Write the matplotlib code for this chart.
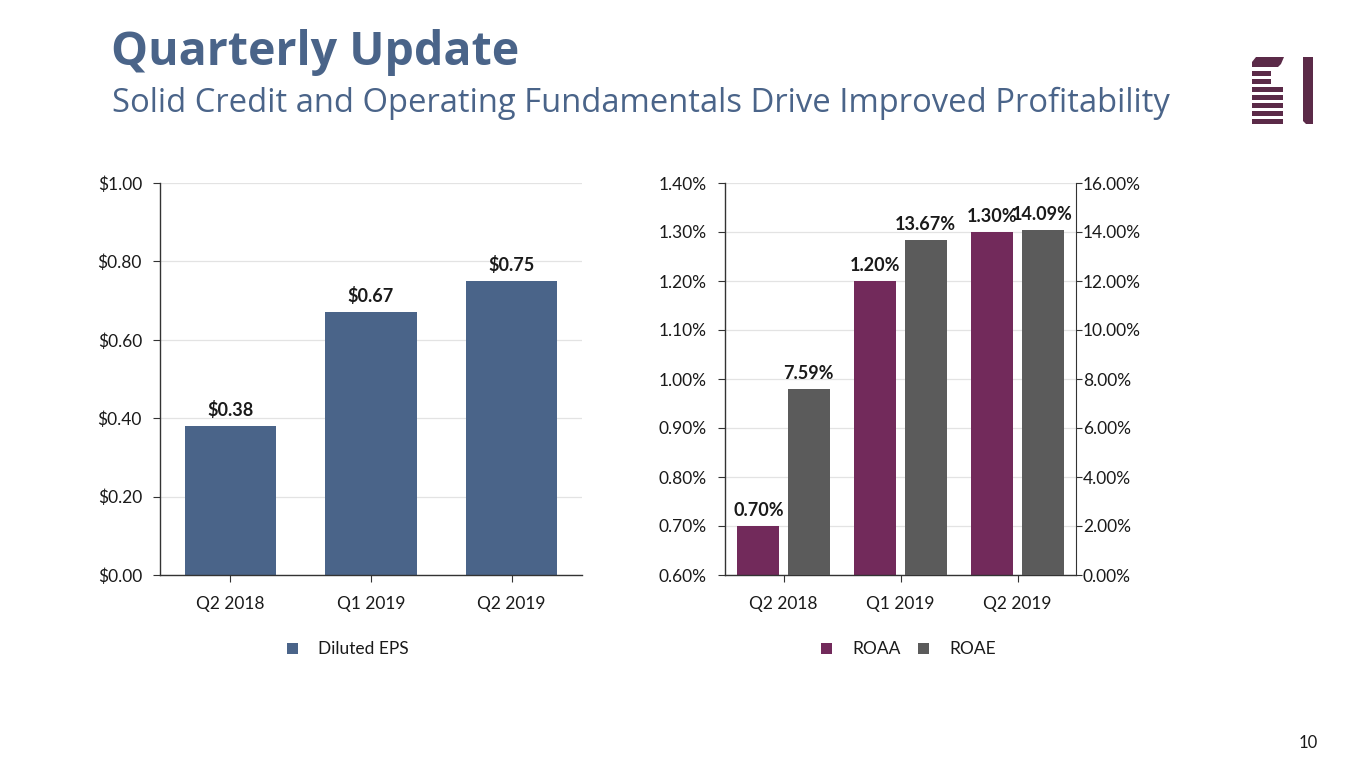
import matplotlib
matplotlib.use("Agg")
import matplotlib.pyplot as plt
from matplotlib.patches import Rectangle, Polygon
from matplotlib.ticker import FuncFormatter
import numpy as np

quarters = ["Q2 2018", "Q1 2019", "Q2 2019"]
eps = [0.38, 0.67, 0.75]
roaa = [0.70, 1.20, 1.30]
roae = [7.59, 13.67, 14.09]

eps_ticks = [0.0, 0.2, 0.4, 0.6, 0.8, 1.0]
roaa_ticks = [0.6, 0.7, 0.8, 0.9, 1.0, 1.1, 1.2, 1.3, 1.4]
roae_ticks = [0, 2, 4, 6, 8, 10, 12, 14, 16]

C_EPS = "#4A6489"
C_ROAA = "#722A5B"
C_ROAE = "#5B5B5B"
C_TITLE = "#4A6489"
C_LOGO = "#5B2A48"
GRID = "#E3E3E3"
TXT = "#1A1A1A"
FONT = ["Lato", "DejaVu Sans"]
TFONT = ["Open Sans", "DejaVu Sans"]
FS = 12.5

plt.rcParams['font.family'] = FONT

fig = plt.figure(figsize=(13.65, 7.68), dpi=100)
W, H = 1365, 768

def fx(x):
    return x / W

def fy(y):
    return 1 - y / H

# Titles
fig.text(fx(111), fy(52), "Quarterly Update", fontsize=33.5, fontweight="bold",
         color=C_TITLE, family=TFONT, va="center", ha="left")
fig.text(fx(112), fy(103), "Solid Credit and Operating Fundamentals Drive Improved Profitability",
         fontsize=23.6, color=C_TITLE, family=TFONT, va="center", ha="left")

# Logo
def frect(x0, y0, x1, y1, color=C_LOGO):
    r = Rectangle((fx(x0), fy(y1)), fx(x1) - fx(x0), fy(y0) - fy(y1),
                  transform=fig.transFigure, color=color, lw=0)
    fig.patches.append(r)
    return r

top = Polygon([(fx(1252), fy(67)), (fx(1252), fy(62)), (fx(1256), fy(57)),
               (fx(1284), fy(57)), (fx(1281), fy(64)), (fx(1278), fy(67))],
              closed=True, transform=fig.transFigure, color=C_LOGO, lw=0)
fig.patches.append(top)
frect(1252, 71, 1271, 76)
frect(1252, 79, 1271, 84)
for y in [87, 95, 103, 111, 119]:
    frect(1252, y, 1283, y + 5)
vert = Polygon([(fx(1303), fy(57)), (fx(1313), fy(57)), (fx(1313), fy(124)),
                (fx(1306), fy(124)), (fx(1303), fy(121))],
               closed=True, transform=fig.transFigure, color=C_LOGO, lw=0)
fig.patches.append(vert)

fig.text(fx(1318), fy(743), "10", fontsize=12, color=TXT, ha="right", va="center")

def style_axis(ax):
    ax.spines["top"].set_visible(False)
    for s in ["left", "bottom", "right"]:
        ax.spines[s].set_color("#333333")
        ax.spines[s].set_linewidth(1.0)
    ax.grid(axis="y", color=GRID, lw=0.9)
    ax.set_axisbelow(True)
    ax.tick_params(axis="y", length=5, width=0.8, color="#333333", labelsize=FS,
                   labelcolor=TXT, pad=8)
    ax.tick_params(axis="x", length=5, width=0.8, color="#333333", labelsize=FS,
                   labelcolor=TXT, pad=10)

x = np.arange(len(quarters))

# Left chart
ax1 = fig.add_axes([fx(160), fy(575), fx(582) - fx(160), fy(183) - fy(575)])
ax1.bar(x, eps, width=0.65, color=C_EPS, label="Diluted EPS")
ax1.set_xlim(-0.5, 2.5)
ax1.set_ylim(0, 1.0)
ax1.set_yticks(eps_ticks)
ax1.yaxis.set_major_formatter(FuncFormatter(lambda v, p: f"${v:.2f}"))
ax1.set_xticks(x)
ax1.set_xticklabels(quarters)
style_axis(ax1)
ax1.spines["right"].set_visible(False)
for xi, v in zip(x, eps):
    ax1.annotate(f"${v:.2f}", (xi, v), xytext=(0, 5), textcoords="offset points",
                 ha="center", va="bottom", fontsize=13, fontweight="bold", color=TXT)

# Right chart
ax2 = fig.add_axes([fx(725), fy(575), fx(1076) - fx(725), fy(183) - fy(575)])
ax3 = ax2.twinx()
bw = 0.36
off = 0.215
ax2.bar(x - off, roaa, width=bw, color=C_ROAA, label="ROAA")
ax3.bar(x + off, roae, width=bw, color=C_ROAE, label="ROAE")
ax2.set_xlim(-0.5, 2.5)
ax2.set_ylim(0.6, 1.4)
ax3.set_ylim(0, 16)
ax2.set_yticks(roaa_ticks)
ax3.set_yticks(roae_ticks)
ax2.yaxis.set_major_formatter(FuncFormatter(lambda v, p: f"{v:.2f}%"))
ax3.yaxis.set_major_formatter(FuncFormatter(lambda v, p: f"{v:.2f}%"))
ax2.set_xticks(x)
ax2.set_xticklabels(quarters)
style_axis(ax2)
ax2.spines["right"].set_visible(False)
ax3.spines["top"].set_visible(False)
ax3.spines["left"].set_visible(False)
ax3.spines["bottom"].set_visible(False)
ax3.spines["right"].set_color("#333333")
ax3.tick_params(axis="y", length=4, width=0.8, color="#333333", labelsize=FS,
                labelcolor=TXT, pad=1)
for xi, v in zip(x, roaa):
    ax2.annotate(f"{v:.2f}%", (xi - off, v), xytext=(0, 5), textcoords="offset points",
                 ha="center", va="bottom", fontsize=13, fontweight="bold", color=TXT)
for xi, v in zip(x, roae):
    ax3.annotate(f"{v:.2f}%", (xi + off, v), xytext=(0, 5), textcoords="offset points",
                 ha="center", va="bottom", fontsize=13, fontweight="bold", color=TXT)

# Legends
def legend_item(xs, ytop, color, label):
    frect(xs, ytop, xs + 11, ytop + 11, color=color)
    fig.text(fx(xs + 31), fy(ytop + 5.5), label, fontsize=FS, color=TXT, va="center", ha="left")

legend_item(287, 643, C_EPS, "Diluted EPS")
legend_item(821, 643, C_ROAA, "ROAA")
legend_item(918, 643, C_ROAE, "ROAE")

fig.savefig("out.png", dpi=100)
